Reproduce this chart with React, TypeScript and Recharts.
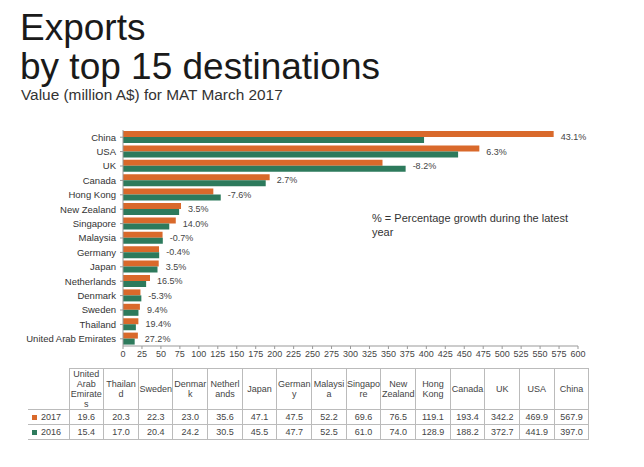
import { BarChart, Bar, XAxis, YAxis, LabelList } from "recharts"

// categories top to bottom, as in the chart
const countries = [
  "China",
  "USA",
  "UK",
  "Canada",
  "Hong Kong",
  "New Zealand",
  "Singapore",
  "Malaysia",
  "Germany",
  "Japan",
  "Netherlands",
  "Denmark",
  "Sweden",
  "Thailand",
  "United Arab Emirates",
]
const values2017 = [567.9, 469.9, 342.2, 193.4, 119.1, 76.5, 69.6, 52.2, 47.5, 47.1, 35.6, 23.0, 22.3, 20.3, 19.6]
const values2016 = [397.0, 441.9, 372.7, 188.2, 128.9, 74.0, 61.0, 52.5, 47.7, 45.5, 30.5, 24.2, 20.4, 17.0, 15.4]
const growth = ["43.1%", "6.3%", "-8.2%", "2.7%", "-7.6%", "3.5%", "14.0%", "-0.7%", "-0.4%", "3.5%", "16.5%", "-5.3%", "9.4%", "19.4%", "27.2%"]
const xTicks = [0, 25, 50, 75, 100, 125, 150, 175, 200, 225, 250, 275, 300, 325, 350, 375, 400, 425, 450, 475, 500, 525, 550, 575, 600]
const seriesNames = ["2017", "2016"]

const ORANGE = "#D9692B"
const GREEN = "#2D7A5C"
const FONT = '"Liberation Sans", Arial, sans-serif'

const data = countries.map((name, i) => ({
  name,
  v2017: values2017[i],
  v2016: values2016[i],
  growth: growth[i],
}))

// growth label sits right of the longer of the two bars
function GrowthLabel(props: any) {
  const { x, y, width, height, index, value } = props
  const a = values2017[index]
  const b = values2016[index]
  const end = x + (width * Math.max(a, b)) / a
  return (
    <text x={end + 7} y={y + height} dy="0.35em" fontSize={9} fill="#444" fontFamily={FONT}>
      {value}
    </text>
  )
}

// plain text tick so long names don't wrap
function CountryTick(props: any) {
  const { x, y, payload } = props
  return (
    <text x={x} y={y} dy="0.35em" textAnchor="end" fontSize={9.5} fill="#333" fontFamily={FONT}>
      {payload.value}
    </text>
  )
}

const cell: any = {
  border: "1px solid #bbb",
  textAlign: "center",
  padding: 0,
  color: "#444",
}

function DataTable() {
  const idx = countries.map((_, i) => countries.length - 1 - i)
  return (
    <table
      style={{
        position: "absolute",
        left: 28,
        top: 368,
        borderCollapse: "collapse",
        tableLayout: "fixed",
        width: 561,
        fontSize: 9,
        fontFamily: FONT,
      }}
    >
      <colgroup>
        <col style={{ width: 41 }} />
        {idx.map((i) => (
          <col key={i} style={{ width: 34.67 }} />
        ))}
      </colgroup>
      <tbody>
        <tr style={{ height: 40 }}>
          <td style={{ border: "none" }}></td>
          {idx.map((i) => (
            <td key={i} style={{ ...cell, overflowWrap: "anywhere", lineHeight: "10px" }}>
              {countries[i]}
            </td>
          ))}
        </tr>
        {[values2017, values2016].map((vals, r) => (
          <tr key={r} style={{ height: 15 }}>
            <td style={{ ...cell, borderLeft: "none", textAlign: "left", paddingLeft: 4 }}>
              <span
                style={{
                  display: "inline-block",
                  width: 5,
                  height: 5,
                  background: r === 0 ? ORANGE : GREEN,
                  marginRight: 4,
                  verticalAlign: "middle",
                }}
              />
              {seriesNames[r]}
            </td>
            {idx.map((i) => (
              <td key={i} style={cell}>
                {vals[i].toFixed(1)}
              </td>
            ))}
          </tr>
        ))}
      </tbody>
    </table>
  )
}

export default function App() {
  return (
    <div
      style={{
        position: "absolute",
        left: 0,
        top: 0,
        width: 644,
        height: 467,
        background: "#fff",
        fontFamily: FONT,
        overflow: "hidden",
      }}
    >
      <div style={{ position: "absolute", left: 20, top: 11, fontSize: 37, lineHeight: "33px", color: "#1a1a1a", whiteSpace: "nowrap" }}>
        Exports
      </div>
      <div style={{ position: "absolute", left: 20, top: 50, fontSize: 37, lineHeight: "33px", color: "#1a1a1a", whiteSpace: "nowrap" }}>
        by top 15 destinations
      </div>
      <div style={{ position: "absolute", left: 21, top: 87, fontSize: 15.4, lineHeight: "15px", color: "#333", whiteSpace: "nowrap" }}>
        Value (million A$) for MAT March 2017
      </div>

      <BarChart
        width={644}
        height={467}
        data={data}
        layout="vertical"
        margin={{ top: 130, right: 66, bottom: 101, left: 0 }}
        barSize={6}
        barGap={0}
        style={{ position: "absolute", left: 0, top: 0 }}
      >
        <XAxis
          type="number"
          domain={[0, 600]}
          ticks={xTicks}
          interval={0}
          height={20}
          stroke="#999"
          tickSize={3}
          tick={{ fontSize: 9, fill: "#444", fontFamily: FONT }}
        />
        <YAxis
          type="category"
          dataKey="name"
          width={123}
          interval={0}
          stroke="#999"
          tickSize={3}
          tickMargin={4}
          tick={<CountryTick />}
        />
        <Bar dataKey="v2017" fill={ORANGE} isAnimationActive={false}>
          <LabelList dataKey="growth" content={<GrowthLabel />} />
        </Bar>
        <Bar dataKey="v2016" fill={GREEN} isAnimationActive={false} />
      </BarChart>

      <div style={{ position: "absolute", left: 372, top: 211, width: 200, fontSize: 11, lineHeight: "14px", color: "#333" }}>
        % = Percentage growth during the latest year
      </div>

      <DataTable />
    </div>
  )
}
